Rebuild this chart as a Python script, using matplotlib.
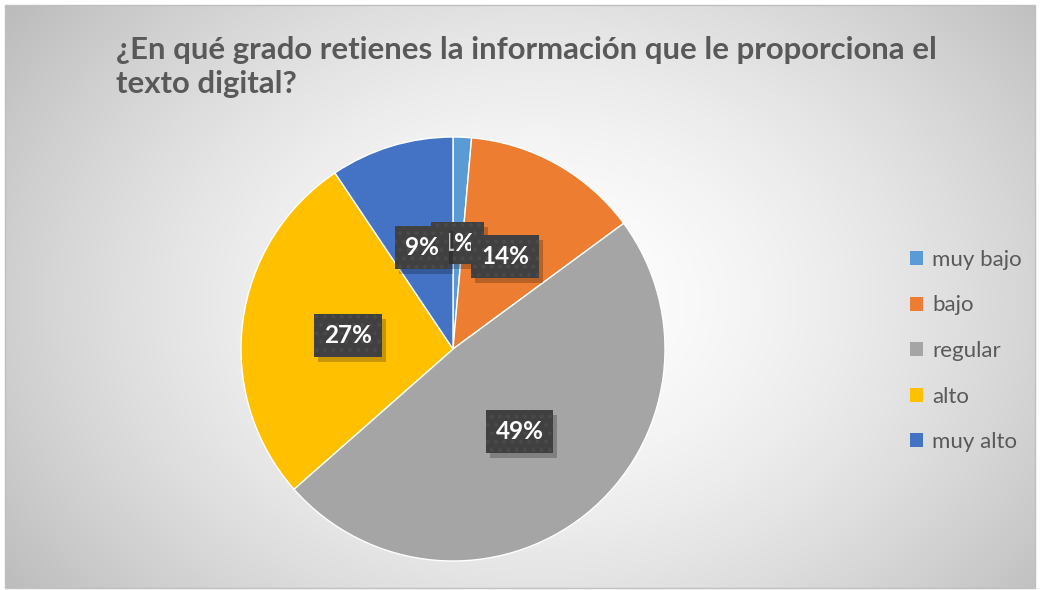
import numpy as np
import matplotlib
matplotlib.use("Agg")
import matplotlib.pyplot as plt
from matplotlib.patches import Rectangle, Patch
from matplotlib.transforms import IdentityTransform

categories = ["muy bajo", "bajo", "regular", "alto", "muy alto"]
percent_values = [1.4, 13.5, 48.6, 27.1, 9.4]
colors = ["#5B9BD5", "#ED7D31", "#A5A5A5", "#FFC000", "#4472C4"]
title = "¿En qué grado retienes la información que le proporciona el\ntexto digital?"

plt.rcParams['font.family'] = ['Lato', 'DejaVu Sans']
plt.rcParams['hatch.linewidth'] = 1.6

W, H = 1040, 590
fig = plt.figure(figsize=(W / 100, H / 100), dpi=100)

# background radial gradient
bg = fig.add_axes([0, 0, 1, 1])
bg.set_xlim(0, W); bg.set_ylim(H, 0); bg.axis('off')
yy, xx = np.mgrid[0:H, 0:W]
cx, cy = 540, 300
d = np.sqrt(((xx - cx) / 560.0) ** 2 + ((yy - cy) / 420.0) ** 2)
v = 1.0 - 0.20 * np.clip(d, 0, 1.2) ** 1.6
img = np.dstack([v, v, v])
bg.imshow(img, extent=(5, 1035, 588, 5), aspect='auto', zorder=0)
bg.add_patch(Rectangle((5, 5), 1030, 583, fill=False, ec='#bfbfbf', lw=1, zorder=1))

# title
fig.text(116 / W, 1 - 67 / H, title, ha='left', va='center', fontsize=22.4,
         fontweight='bold', color='#595959', linespacing=1.22)

# pie
cxp, cyp, r = 453, 349, 212
ax = fig.add_axes([(cxp - r) / W, 1 - (cyp + r) / H, 2 * r / W, 2 * r / H])
wedges, texts, autotexts = ax.pie(
    percent_values, colors=colors, startangle=90, counterclock=False,
    autopct='%.0f%%', pctdistance=0.5,
    wedgeprops=dict(edgecolor='white', linewidth=1),
    textprops=dict(color='white', fontsize=17.5, fontweight='bold'))
ax.set_xlim(-1, 1); ax.set_ylim(-1, 1); ax.set_aspect('equal')
ax.axis('off')

for i, t in enumerate(autotexts):
    t.set_zorder(5 + i)
    t.set_bbox(dict(boxstyle='square,pad=0.4', fc='#404040', ec='#4a4a4a', lw=0, hatch='..'))

fig.canvas.draw()
renderer = fig.canvas.get_renderer()
for i, t in enumerate(autotexts):
    bb = t.get_bbox_patch().get_window_extent(renderer)
    sh = Rectangle((bb.x0 + 4, bb.y0 - 5), bb.width, bb.height, transform=IdentityTransform(),
                   fc=(0, 0, 0, 0.22), ec='none', zorder=4.5 + i, clip_on=False)
    ax.add_artist(sh)

handles = [Patch(facecolor=c, edgecolor='none') for c in colors]
leg = fig.legend(handles, categories, loc='center left', bbox_to_anchor=(890 / W, 1 - 351 / H),
                 frameon=False, fontsize=16, labelcolor='#595959', handlelength=0.6,
                 handleheight=0.6, handletextpad=0.4, labelspacing=1.15)

fig.savefig('out.png', dpi=100)
